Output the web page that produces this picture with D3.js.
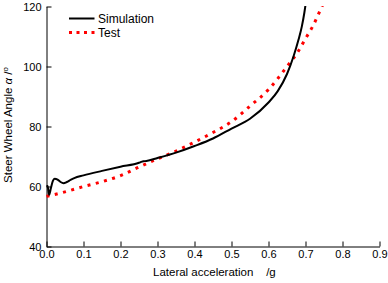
<!DOCTYPE html>
<html><head><meta charset="utf-8">
<script src="https://cdn.jsdelivr.net/npm/d3@7"></script>
<style>body{margin:0;background:#fff}svg{display:block}text{font-family:"Liberation Sans",Arial,sans-serif;}</style>
</head><body>
<svg id="c" width="388" height="283"></svg>
<script>
const xTicks = [0,0.1,0.2,0.3,0.4,0.5,0.6,0.7,0.8,0.9];
const yTicks = [40,60,80,100,120];
const simX = [0,0.003,0.007,0.012,0.017,0.022,0.03,0.038,0.046,0.055,0.065,0.075,0.1,0.15,0.2,0.25,0.258,0.262,0.27,0.3,0.35,0.4,0.45,0.5,0.55,0.6,0.625,0.65,0.668,0.681,0.69,0.697,0.7];
const simY = [60.2,60.2,57.2,59.5,61.8,62.6,62.3,61.5,61.1,61.5,62.2,62.8,63.7,65.2,66.6,67.9,68.3,68.4,68.5,69.5,71.3,73.5,76.0,79.3,82.6,88.0,91.8,97.5,103.5,108.9,113.3,118,120.5];
const testX = [0,0.05,0.1,0.15,0.2,0.25,0.3,0.35,0.4,0.45,0.5,0.55,0.6,0.65,0.68,0.7,0.72,0.74,0.748];
const testY = [56.7,58.2,60.0,61.6,63.6,66.5,69.2,71.8,74.8,78.0,81.6,86.8,92.3,100,105,109.3,113.5,118.8,121];
const seriesNames = ["Simulation","Test"];

const svg = d3.select("#c");
const x = d3.scaleLinear().domain([0,0.9]).range([46.5,379.5]);
const y = d3.scaleLinear().domain([40,120]).range([246.5,6.5]);

const xAxis = svg.append("g").attr("transform","translate(0,246.5)")
  .call(d3.axisBottom(x).tickValues(xTicks).tickFormat(d3.format(".1f")).tickSizeInner(-5).tickSizeOuter(0).tickPadding(8));
const yAxis = svg.append("g").attr("transform","translate(46.5,0)")
  .call(d3.axisLeft(y).tickValues(yTicks).tickFormat(d3.format("d")).tickSizeInner(-5).tickSizeOuter(0).tickPadding(5));
[xAxis,yAxis].forEach(a=>{
  a.selectAll("path,line").attr("stroke","#000").attr("stroke-width",1);
  a.selectAll("text").attr("font-size",11).attr("fill","#000").attr("font-family","Liberation Sans, Arial, sans-serif");
});
xAxis.selectAll("text").attr("dy","0.71em").attr("y",4);

const clip = svg.append("clipPath").attr("id","cp").append("rect")
  .attr("x",46).attr("y",6).attr("width",340).attr("height",241);

const line = d3.line().x(d=>x(d[0])).y(d=>y(d[1])).curve(d3.curveMonotoneX);
const g = svg.append("g").attr("clip-path","url(#cp)");
g.append("path").datum(testX.map((v,i)=>[v,testY[i]]))
  .attr("d",line).attr("fill","none").attr("stroke","#ff0000").attr("stroke-width",3)
  .attr("stroke-dasharray","3,5.5");
g.append("path").datum(simX.map((v,i)=>[v,simY[i]]))
  .attr("d",line)
  .attr("fill","none").attr("stroke","#000").attr("stroke-width",2);

// legend
const lg = svg.append("g");
lg.append("line").attr("x1",69).attr("x2",94.5).attr("y1",18.5).attr("y2",18.5).attr("stroke","#000").attr("stroke-width",2);
lg.append("line").attr("x1",69).attr("x2",95).attr("y1",32.5).attr("y2",32.5).attr("stroke","#ff0000").attr("stroke-width",3).attr("stroke-dasharray","3,4.5");
lg.selectAll("text.l").data(seriesNames).join("text").attr("class","l")
  .attr("x",98).attr("y",(d,i)=>22.5+i*14).attr("font-size",12).text(d=>d);

// axis titles
svg.append("text").attr("x",153).attr("y",276).attr("font-size",11.5)
  .style("white-space","pre").text("Lateral acceleration    /g");
const yt = svg.append("text").attr("transform","translate(12,125) rotate(-90)")
  .attr("text-anchor","middle").attr("font-size",11.5);
yt.append("tspan").text("Steer Wheel Angle ");
yt.append("tspan").attr("font-style","italic").text("α");
yt.append("tspan").text(" /");
yt.append("tspan").attr("font-size",8).attr("dy",-4).text("o");
</script>
</body></html>
